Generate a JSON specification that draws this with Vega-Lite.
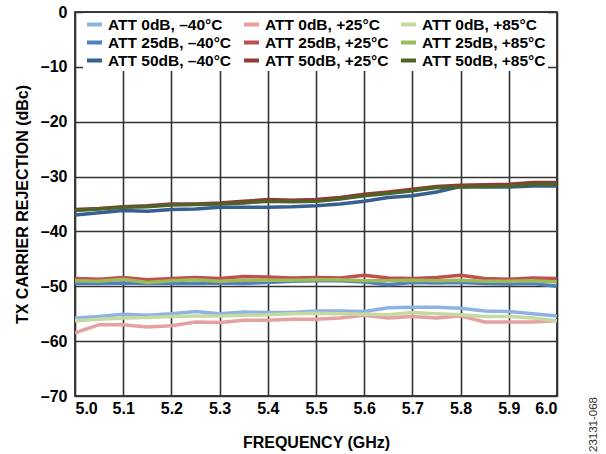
{
  "$schema": "https://vega.github.io/schema/vega-lite/v6.json",
  "width": 482,
  "height": 384,
  "autosize": "none",
  "padding": {"left": 75, "top": 12, "right": 49, "bottom": 58},
  "background": "white",
  "config": {
    "font": "Liberation Sans",
    "view": {"stroke": "#000000", "strokeWidth": 1.5},
    "axis": {
      "labelFont": "Liberation Sans",
      "labelFontWeight": "bold",
      "labelFontSize": 16,
      "labelColor": "#000000",
      "titleFont": "Liberation Sans",
      "titleFontWeight": "bold",
      "titleFontSize": 16,
      "titleColor": "#000000",
      "gridColor": "#333333",
      "gridWidth": 1.6,
      "gridOpacity": 1,
      "domain": false,
      "ticks": false
    }
  },
  "data": {
    "values": [
      {"freq": 5.00, "rej": -55.8, "series": "ATT 0dB, –40°C", "att": 0},
      {"freq": 5.05, "rej": -55.5, "series": "ATT 0dB, –40°C", "att": 0},
      {"freq": 5.10, "rej": -55.1, "series": "ATT 0dB, –40°C", "att": 0},
      {"freq": 5.15, "rej": -55.3, "series": "ATT 0dB, –40°C", "att": 0},
      {"freq": 5.20, "rej": -55.0, "series": "ATT 0dB, –40°C", "att": 0},
      {"freq": 5.25, "rej": -54.6, "series": "ATT 0dB, –40°C", "att": 0},
      {"freq": 5.30, "rej": -55.0, "series": "ATT 0dB, –40°C", "att": 0},
      {"freq": 5.35, "rej": -54.7, "series": "ATT 0dB, –40°C", "att": 0},
      {"freq": 5.40, "rej": -54.8, "series": "ATT 0dB, –40°C", "att": 0},
      {"freq": 5.45, "rej": -54.8, "series": "ATT 0dB, –40°C", "att": 0},
      {"freq": 5.50, "rej": -54.5, "series": "ATT 0dB, –40°C", "att": 0},
      {"freq": 5.55, "rej": -54.5, "series": "ATT 0dB, –40°C", "att": 0},
      {"freq": 5.60, "rej": -54.6, "series": "ATT 0dB, –40°C", "att": 0},
      {"freq": 5.65, "rej": -53.9, "series": "ATT 0dB, –40°C", "att": 0},
      {"freq": 5.70, "rej": -53.8, "series": "ATT 0dB, –40°C", "att": 0},
      {"freq": 5.75, "rej": -53.8, "series": "ATT 0dB, –40°C", "att": 0},
      {"freq": 5.80, "rej": -54.0, "series": "ATT 0dB, –40°C", "att": 0},
      {"freq": 5.85, "rej": -54.5, "series": "ATT 0dB, –40°C", "att": 0},
      {"freq": 5.90, "rej": -54.6, "series": "ATT 0dB, –40°C", "att": 0},
      {"freq": 5.95, "rej": -55.0, "series": "ATT 0dB, –40°C", "att": 0},
      {"freq": 6.00, "rej": -55.4, "series": "ATT 0dB, –40°C", "att": 0},

      {"freq": 5.00, "rej": -58.5, "series": "ATT 0dB, +25°C", "att": 0},
      {"freq": 5.05, "rej": -57.0, "series": "ATT 0dB, +25°C", "att": 0},
      {"freq": 5.10, "rej": -57.0, "series": "ATT 0dB, +25°C", "att": 0},
      {"freq": 5.15, "rej": -57.4, "series": "ATT 0dB, +25°C", "att": 0},
      {"freq": 5.20, "rej": -57.2, "series": "ATT 0dB, +25°C", "att": 0},
      {"freq": 5.25, "rej": -56.5, "series": "ATT 0dB, +25°C", "att": 0},
      {"freq": 5.30, "rej": -56.6, "series": "ATT 0dB, +25°C", "att": 0},
      {"freq": 5.35, "rej": -56.2, "series": "ATT 0dB, +25°C", "att": 0},
      {"freq": 5.40, "rej": -56.2, "series": "ATT 0dB, +25°C", "att": 0},
      {"freq": 5.45, "rej": -56.0, "series": "ATT 0dB, +25°C", "att": 0},
      {"freq": 5.50, "rej": -56.0, "series": "ATT 0dB, +25°C", "att": 0},
      {"freq": 5.55, "rej": -55.8, "series": "ATT 0dB, +25°C", "att": 0},
      {"freq": 5.60, "rej": -55.3, "series": "ATT 0dB, +25°C", "att": 0},
      {"freq": 5.65, "rej": -55.8, "series": "ATT 0dB, +25°C", "att": 0},
      {"freq": 5.70, "rej": -55.5, "series": "ATT 0dB, +25°C", "att": 0},
      {"freq": 5.75, "rej": -55.8, "series": "ATT 0dB, +25°C", "att": 0},
      {"freq": 5.80, "rej": -55.4, "series": "ATT 0dB, +25°C", "att": 0},
      {"freq": 5.85, "rej": -56.5, "series": "ATT 0dB, +25°C", "att": 0},
      {"freq": 5.90, "rej": -56.5, "series": "ATT 0dB, +25°C", "att": 0},
      {"freq": 5.95, "rej": -56.5, "series": "ATT 0dB, +25°C", "att": 0},
      {"freq": 6.00, "rej": -56.3, "series": "ATT 0dB, +25°C", "att": 0},

      {"freq": 5.00, "rej": -56.3, "series": "ATT 0dB, +85°C", "att": 0},
      {"freq": 5.05, "rej": -56.0, "series": "ATT 0dB, +85°C", "att": 0},
      {"freq": 5.10, "rej": -55.8, "series": "ATT 0dB, +85°C", "att": 0},
      {"freq": 5.15, "rej": -55.7, "series": "ATT 0dB, +85°C", "att": 0},
      {"freq": 5.20, "rej": -55.5, "series": "ATT 0dB, +85°C", "att": 0},
      {"freq": 5.25, "rej": -55.4, "series": "ATT 0dB, +85°C", "att": 0},
      {"freq": 5.30, "rej": -55.4, "series": "ATT 0dB, +85°C", "att": 0},
      {"freq": 5.35, "rej": -55.3, "series": "ATT 0dB, +85°C", "att": 0},
      {"freq": 5.40, "rej": -55.2, "series": "ATT 0dB, +85°C", "att": 0},
      {"freq": 5.45, "rej": -55.0, "series": "ATT 0dB, +85°C", "att": 0},
      {"freq": 5.50, "rej": -54.9, "series": "ATT 0dB, +85°C", "att": 0},
      {"freq": 5.55, "rej": -55.0, "series": "ATT 0dB, +85°C", "att": 0},
      {"freq": 5.60, "rej": -55.1, "series": "ATT 0dB, +85°C", "att": 0},
      {"freq": 5.65, "rej": -55.2, "series": "ATT 0dB, +85°C", "att": 0},
      {"freq": 5.70, "rej": -54.8, "series": "ATT 0dB, +85°C", "att": 0},
      {"freq": 5.75, "rej": -55.0, "series": "ATT 0dB, +85°C", "att": 0},
      {"freq": 5.80, "rej": -55.2, "series": "ATT 0dB, +85°C", "att": 0},
      {"freq": 5.85, "rej": -55.5, "series": "ATT 0dB, +85°C", "att": 0},
      {"freq": 5.90, "rej": -55.5, "series": "ATT 0dB, +85°C", "att": 0},
      {"freq": 5.95, "rej": -55.8, "series": "ATT 0dB, +85°C", "att": 0},
      {"freq": 6.00, "rej": -56.3, "series": "ATT 0dB, +85°C", "att": 0},

      {"freq": 5.00, "rej": -49.5, "series": "ATT 25dB, –40°C", "att": 25},
      {"freq": 5.05, "rej": -49.5, "series": "ATT 25dB, –40°C", "att": 25},
      {"freq": 5.10, "rej": -49.4, "series": "ATT 25dB, –40°C", "att": 25},
      {"freq": 5.15, "rej": -49.5, "series": "ATT 25dB, –40°C", "att": 25},
      {"freq": 5.20, "rej": -49.5, "series": "ATT 25dB, –40°C", "att": 25},
      {"freq": 5.25, "rej": -49.5, "series": "ATT 25dB, –40°C", "att": 25},
      {"freq": 5.30, "rej": -49.4, "series": "ATT 25dB, –40°C", "att": 25},
      {"freq": 5.35, "rej": -49.5, "series": "ATT 25dB, –40°C", "att": 25},
      {"freq": 5.40, "rej": -49.3, "series": "ATT 25dB, –40°C", "att": 25},
      {"freq": 5.45, "rej": -49.1, "series": "ATT 25dB, –40°C", "att": 25},
      {"freq": 5.50, "rej": -49.0, "series": "ATT 25dB, –40°C", "att": 25},
      {"freq": 5.55, "rej": -49.0, "series": "ATT 25dB, –40°C", "att": 25},
      {"freq": 5.60, "rej": -49.2, "series": "ATT 25dB, –40°C", "att": 25},
      {"freq": 5.65, "rej": -49.7, "series": "ATT 25dB, –40°C", "att": 25},
      {"freq": 5.70, "rej": -49.3, "series": "ATT 25dB, –40°C", "att": 25},
      {"freq": 5.75, "rej": -49.4, "series": "ATT 25dB, –40°C", "att": 25},
      {"freq": 5.80, "rej": -49.3, "series": "ATT 25dB, –40°C", "att": 25},
      {"freq": 5.85, "rej": -49.5, "series": "ATT 25dB, –40°C", "att": 25},
      {"freq": 5.90, "rej": -49.6, "series": "ATT 25dB, –40°C", "att": 25},
      {"freq": 5.95, "rej": -49.5, "series": "ATT 25dB, –40°C", "att": 25},
      {"freq": 6.00, "rej": -50.0, "series": "ATT 25dB, –40°C", "att": 25},

      {"freq": 5.00, "rej": -48.6, "series": "ATT 25dB, +25°C", "att": 25},
      {"freq": 5.05, "rej": -48.7, "series": "ATT 25dB, +25°C", "att": 25},
      {"freq": 5.10, "rej": -48.4, "series": "ATT 25dB, +25°C", "att": 25},
      {"freq": 5.15, "rej": -48.8, "series": "ATT 25dB, +25°C", "att": 25},
      {"freq": 5.20, "rej": -48.6, "series": "ATT 25dB, +25°C", "att": 25},
      {"freq": 5.25, "rej": -48.4, "series": "ATT 25dB, +25°C", "att": 25},
      {"freq": 5.30, "rej": -48.6, "series": "ATT 25dB, +25°C", "att": 25},
      {"freq": 5.35, "rej": -48.2, "series": "ATT 25dB, +25°C", "att": 25},
      {"freq": 5.40, "rej": -48.3, "series": "ATT 25dB, +25°C", "att": 25},
      {"freq": 5.45, "rej": -48.5, "series": "ATT 25dB, +25°C", "att": 25},
      {"freq": 5.50, "rej": -48.4, "series": "ATT 25dB, +25°C", "att": 25},
      {"freq": 5.55, "rej": -48.5, "series": "ATT 25dB, +25°C", "att": 25},
      {"freq": 5.60, "rej": -48.0, "series": "ATT 25dB, +25°C", "att": 25},
      {"freq": 5.65, "rej": -48.5, "series": "ATT 25dB, +25°C", "att": 25},
      {"freq": 5.70, "rej": -48.6, "series": "ATT 25dB, +25°C", "att": 25},
      {"freq": 5.75, "rej": -48.4, "series": "ATT 25dB, +25°C", "att": 25},
      {"freq": 5.80, "rej": -48.0, "series": "ATT 25dB, +25°C", "att": 25},
      {"freq": 5.85, "rej": -48.6, "series": "ATT 25dB, +25°C", "att": 25},
      {"freq": 5.90, "rej": -48.7, "series": "ATT 25dB, +25°C", "att": 25},
      {"freq": 5.95, "rej": -48.5, "series": "ATT 25dB, +25°C", "att": 25},
      {"freq": 6.00, "rej": -48.6, "series": "ATT 25dB, +25°C", "att": 25},

      {"freq": 5.00, "rej": -49.0, "series": "ATT 25dB, +85°C", "att": 25},
      {"freq": 5.05, "rej": -49.1, "series": "ATT 25dB, +85°C", "att": 25},
      {"freq": 5.10, "rej": -48.7, "series": "ATT 25dB, +85°C", "att": 25},
      {"freq": 5.15, "rej": -49.3, "series": "ATT 25dB, +85°C", "att": 25},
      {"freq": 5.20, "rej": -49.0, "series": "ATT 25dB, +85°C", "att": 25},
      {"freq": 5.25, "rej": -48.8, "series": "ATT 25dB, +85°C", "att": 25},
      {"freq": 5.30, "rej": -49.1, "series": "ATT 25dB, +85°C", "att": 25},
      {"freq": 5.35, "rej": -48.9, "series": "ATT 25dB, +85°C", "att": 25},
      {"freq": 5.40, "rej": -48.9, "series": "ATT 25dB, +85°C", "att": 25},
      {"freq": 5.45, "rej": -48.9, "series": "ATT 25dB, +85°C", "att": 25},
      {"freq": 5.50, "rej": -48.8, "series": "ATT 25dB, +85°C", "att": 25},
      {"freq": 5.55, "rej": -48.8, "series": "ATT 25dB, +85°C", "att": 25},
      {"freq": 5.60, "rej": -49.0, "series": "ATT 25dB, +85°C", "att": 25},
      {"freq": 5.65, "rej": -49.0, "series": "ATT 25dB, +85°C", "att": 25},
      {"freq": 5.70, "rej": -48.9, "series": "ATT 25dB, +85°C", "att": 25},
      {"freq": 5.75, "rej": -49.0, "series": "ATT 25dB, +85°C", "att": 25},
      {"freq": 5.80, "rej": -48.9, "series": "ATT 25dB, +85°C", "att": 25},
      {"freq": 5.85, "rej": -49.1, "series": "ATT 25dB, +85°C", "att": 25},
      {"freq": 5.90, "rej": -49.1, "series": "ATT 25dB, +85°C", "att": 25},
      {"freq": 5.95, "rej": -49.0, "series": "ATT 25dB, +85°C", "att": 25},
      {"freq": 6.00, "rej": -49.2, "series": "ATT 25dB, +85°C", "att": 25},

      {"freq": 5.00, "rej": -37.0, "series": "ATT 50dB, –40°C", "att": 50},
      {"freq": 5.05, "rej": -36.6, "series": "ATT 50dB, –40°C", "att": 50},
      {"freq": 5.10, "rej": -36.2, "series": "ATT 50dB, –40°C", "att": 50},
      {"freq": 5.15, "rej": -36.3, "series": "ATT 50dB, –40°C", "att": 50},
      {"freq": 5.20, "rej": -36.0, "series": "ATT 50dB, –40°C", "att": 50},
      {"freq": 5.25, "rej": -35.9, "series": "ATT 50dB, –40°C", "att": 50},
      {"freq": 5.30, "rej": -35.6, "series": "ATT 50dB, –40°C", "att": 50},
      {"freq": 5.35, "rej": -35.6, "series": "ATT 50dB, –40°C", "att": 50},
      {"freq": 5.40, "rej": -35.6, "series": "ATT 50dB, –40°C", "att": 50},
      {"freq": 5.45, "rej": -35.5, "series": "ATT 50dB, –40°C", "att": 50},
      {"freq": 5.50, "rej": -35.3, "series": "ATT 50dB, –40°C", "att": 50},
      {"freq": 5.55, "rej": -35.0, "series": "ATT 50dB, –40°C", "att": 50},
      {"freq": 5.60, "rej": -34.5, "series": "ATT 50dB, –40°C", "att": 50},
      {"freq": 5.65, "rej": -33.8, "series": "ATT 50dB, –40°C", "att": 50},
      {"freq": 5.70, "rej": -33.5, "series": "ATT 50dB, –40°C", "att": 50},
      {"freq": 5.75, "rej": -32.8, "series": "ATT 50dB, –40°C", "att": 50},
      {"freq": 5.80, "rej": -31.8, "series": "ATT 50dB, –40°C", "att": 50},
      {"freq": 5.85, "rej": -31.9, "series": "ATT 50dB, –40°C", "att": 50},
      {"freq": 5.90, "rej": -31.9, "series": "ATT 50dB, –40°C", "att": 50},
      {"freq": 5.95, "rej": -31.7, "series": "ATT 50dB, –40°C", "att": 50},
      {"freq": 6.00, "rej": -31.7, "series": "ATT 50dB, –40°C", "att": 50},

      {"freq": 5.00, "rej": -36.0, "series": "ATT 50dB, +25°C", "att": 50},
      {"freq": 5.05, "rej": -35.8, "series": "ATT 50dB, +25°C", "att": 50},
      {"freq": 5.10, "rej": -35.5, "series": "ATT 50dB, +25°C", "att": 50},
      {"freq": 5.15, "rej": -35.3, "series": "ATT 50dB, +25°C", "att": 50},
      {"freq": 5.20, "rej": -35.0, "series": "ATT 50dB, +25°C", "att": 50},
      {"freq": 5.25, "rej": -35.0, "series": "ATT 50dB, +25°C", "att": 50},
      {"freq": 5.30, "rej": -34.8, "series": "ATT 50dB, +25°C", "att": 50},
      {"freq": 5.35, "rej": -34.5, "series": "ATT 50dB, +25°C", "att": 50},
      {"freq": 5.40, "rej": -34.2, "series": "ATT 50dB, +25°C", "att": 50},
      {"freq": 5.45, "rej": -34.3, "series": "ATT 50dB, +25°C", "att": 50},
      {"freq": 5.50, "rej": -34.2, "series": "ATT 50dB, +25°C", "att": 50},
      {"freq": 5.55, "rej": -33.8, "series": "ATT 50dB, +25°C", "att": 50},
      {"freq": 5.60, "rej": -33.2, "series": "ATT 50dB, +25°C", "att": 50},
      {"freq": 5.65, "rej": -32.8, "series": "ATT 50dB, +25°C", "att": 50},
      {"freq": 5.70, "rej": -32.3, "series": "ATT 50dB, +25°C", "att": 50},
      {"freq": 5.75, "rej": -31.8, "series": "ATT 50dB, +25°C", "att": 50},
      {"freq": 5.80, "rej": -31.6, "series": "ATT 50dB, +25°C", "att": 50},
      {"freq": 5.85, "rej": -31.5, "series": "ATT 50dB, +25°C", "att": 50},
      {"freq": 5.90, "rej": -31.4, "series": "ATT 50dB, +25°C", "att": 50},
      {"freq": 5.95, "rej": -31.1, "series": "ATT 50dB, +25°C", "att": 50},
      {"freq": 6.00, "rej": -31.1, "series": "ATT 50dB, +25°C", "att": 50},

      {"freq": 5.00, "rej": -36.2, "series": "ATT 50dB, +85°C", "att": 50},
      {"freq": 5.05, "rej": -35.9, "series": "ATT 50dB, +85°C", "att": 50},
      {"freq": 5.10, "rej": -35.6, "series": "ATT 50dB, +85°C", "att": 50},
      {"freq": 5.15, "rej": -35.5, "series": "ATT 50dB, +85°C", "att": 50},
      {"freq": 5.20, "rej": -35.2, "series": "ATT 50dB, +85°C", "att": 50},
      {"freq": 5.25, "rej": -35.1, "series": "ATT 50dB, +85°C", "att": 50},
      {"freq": 5.30, "rej": -35.0, "series": "ATT 50dB, +85°C", "att": 50},
      {"freq": 5.35, "rej": -34.8, "series": "ATT 50dB, +85°C", "att": 50},
      {"freq": 5.40, "rej": -34.5, "series": "ATT 50dB, +85°C", "att": 50},
      {"freq": 5.45, "rej": -34.6, "series": "ATT 50dB, +85°C", "att": 50},
      {"freq": 5.50, "rej": -34.5, "series": "ATT 50dB, +85°C", "att": 50},
      {"freq": 5.55, "rej": -34.1, "series": "ATT 50dB, +85°C", "att": 50},
      {"freq": 5.60, "rej": -33.5, "series": "ATT 50dB, +85°C", "att": 50},
      {"freq": 5.65, "rej": -33.1, "series": "ATT 50dB, +85°C", "att": 50},
      {"freq": 5.70, "rej": -32.6, "series": "ATT 50dB, +85°C", "att": 50},
      {"freq": 5.75, "rej": -32.0, "series": "ATT 50dB, +85°C", "att": 50},
      {"freq": 5.80, "rej": -31.9, "series": "ATT 50dB, +85°C", "att": 50},
      {"freq": 5.85, "rej": -31.8, "series": "ATT 50dB, +85°C", "att": 50},
      {"freq": 5.90, "rej": -31.7, "series": "ATT 50dB, +85°C", "att": 50},
      {"freq": 5.95, "rej": -31.4, "series": "ATT 50dB, +85°C", "att": 50},
      {"freq": 6.00, "rej": -31.4, "series": "ATT 50dB, +85°C", "att": 50}
    ]
  },
  "encoding": {
    "x": {
      "field": "freq",
      "type": "quantitative",
      "scale": {"domain": [5, 6], "nice": false, "zero": false},
      "axis": {
        "values": [5.0, 5.1, 5.2, 5.3, 5.4, 5.5, 5.6, 5.7, 5.8, 5.9, 6.0],
        "format": ".1f",
        "title": "FREQUENCY (GHz)",
        "labelPadding": 4,
        "titlePadding": 18
      }
    },
    "y": {
      "field": "rej",
      "type": "quantitative",
      "scale": {"domain": [-70, 0], "nice": false, "zero": false},
      "axis": {
        "values": [-70, -60, -50, -40, -30, -20, -10, 0],
        "labelExpr": "datum.value < 0 ? '–' + abs(datum.value) : '0'",
        "title": "TX CARRIER REJECTION (dBc)",
        "labelPadding": 8,
        "titlePadding": 10
      }
    },
    "color": {
      "field": "series",
      "type": "nominal",
      "scale": {
        "domain": ["ATT 0dB, –40°C", "ATT 0dB, +25°C", "ATT 0dB, +85°C", "ATT 25dB, –40°C", "ATT 25dB, +25°C", "ATT 25dB, +85°C", "ATT 50dB, –40°C", "ATT 50dB, +25°C", "ATT 50dB, +85°C"],
        "range": ["#8db3e2", "#e6a09f", "#c5d9a0", "#4f81bd", "#c0504d", "#9bbb59", "#376092", "#953735", "#4f6228"]
      },
      "legend": {
        "title": null,
        "orient": "none",
        "legendX": 8,
        "legendY": 1,
        "columns": 3,
        "direction": "horizontal",
        "gridAlign": "all",
        "fillColor": "white",
        "padding": 2,
        "columnPadding": 4,
        "rowPadding": 0,
        "labelFont": "Liberation Sans",
        "labelFontWeight": "bold",
        "labelFontSize": 15.5,
        "labelColor": "#000000",
        "labelOffset": 4,
        "symbolType": "stroke",
        "symbolSize": 225,
        "symbolStrokeWidth": 4,
        "labelLimit": 200
      }
    }
  },
  "layer": [
    {
      "transform": [{"filter": "datum.att < 50"}],
      "mark": {"type": "line", "strokeWidth": 3.5, "clip": true}
    },
    {
      "transform": [{"filter": "datum.att == 50"}],
      "mark": {"type": "line", "strokeWidth": 3.5, "clip": true},
      "encoding": {
        "y": {
          "field": "rej",
          "type": "quantitative",
          "scale": {"domain": [-70, 0], "nice": false, "zero": false},
          "axis": {
            "orient": "right",
            "labels": false,
            "grid": false,
            "ticks": false,
            "domain": false,
            "title": "23131-068",
            "titleFont": "Liberation Sans",
            "titleFontWeight": "normal",
            "titleFontSize": 11.5,
            "titleColor": "#333333",
            "titleAngle": -90,
            "titleAlign": "center",
            "titleBaseline": "middle",
            "titleX": 36,
            "titleY": 412
          }
        }
      }
    }
  ],
  "resolve": {"axis": {"y": "independent"}}
}
